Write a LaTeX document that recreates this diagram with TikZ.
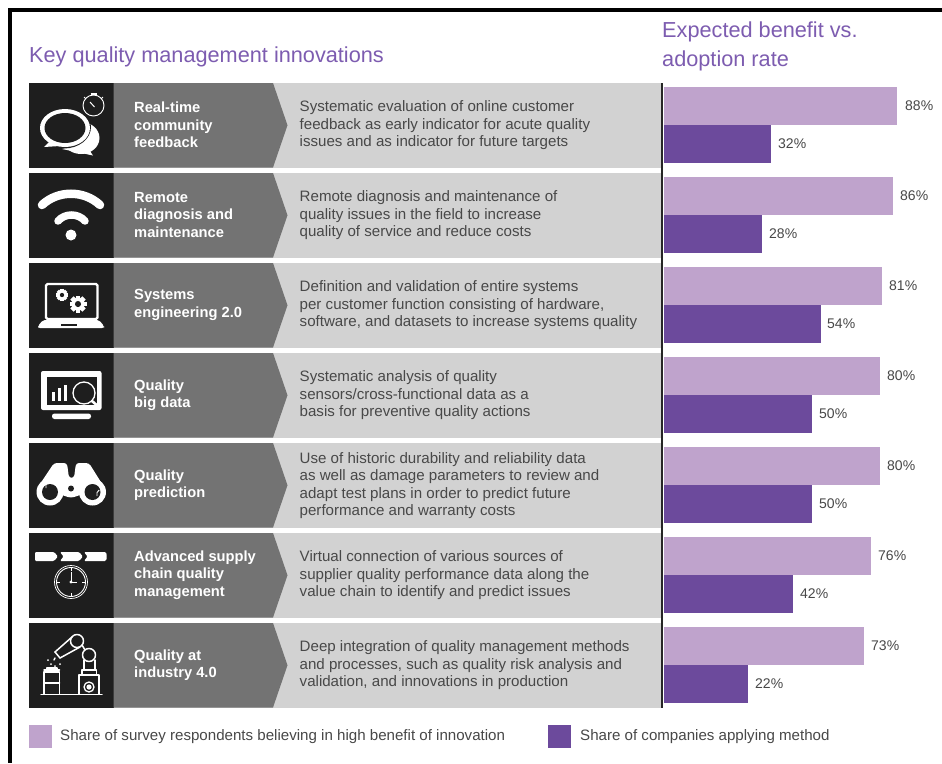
\documentclass[tikz,border=0pt]{standalone}
\usepackage{fontspec}
\setmainfont{Liberation Sans}
\definecolor{titlecol}{HTML}{7D5CB0}
\definecolor{barhi}{HTML}{BFA3CC}
\definecolor{barlo}{HTML}{6C4A9C}
\definecolor{bandd}{HTML}{737373}
\definecolor{bandl}{HTML}{D2D2D2}
\definecolor{iconbg}{HTML}{1E1E1E}
\definecolor{bodytxt}{HTML}{484848}
\tikzset{
  titletxt/.style={anchor=west,inner sep=0pt,text=titlecol,font=\fontsize{21.7}{29}\selectfont,align=left},
  labeltxt/.style={anchor=west,inner sep=0pt,text=white,align=left,font=\fontsize{14.7}{17.4}\selectfont\bfseries},
  desctxt/.style={anchor=west,inner sep=0pt,text=bodytxt,align=left,font=\fontsize{15.1}{17.5}\selectfont},
  pcttxt/.style={anchor=west,inner sep=0pt,text=bodytxt,font=\fontsize{14}{17}\selectfont},
  legtxt/.style={anchor=west,inner sep=0pt,text=bodytxt,font=\fontsize{15.1}{17}\selectfont},
  whl/.style={draw=white,line width=1.5pt,line cap=round,line join=round},
  thinl/.style={draw=white,line width=0.7pt},
}
\newcommand{\qrow}[6]{% id, top y, label, description, hi end, lo end
  \fill[iconbg] (29,#2) rectangle (113.7,#2+84.5);
  \fill[bandl] (113.7,#2) rectangle (661,#2+84.5);
  \fill[bandd] (113.7,#2) -- (273,#2) -- (287.5,#2+42.25) -- (273,#2+84.5) -- (113.7,#2+84.5) -- cycle;
  \node[labeltxt] (lab#1) at (134,#2+42) {#3};
  \node[desctxt] (desc#1) at (299.5,#2+42.5) {#4};
  \fill[barhi] (664,#2+4) rectangle (#5,#2+42);
  \fill[barlo] (664,#2+42) rectangle (#6,#2+80);
}
\newcommand{\qgear}[3]{%
  \foreach \a in {0,45,90,135}{\draw[white,line width=#3*0.55pt] ([shift={(#1,#2)}]\a:#3) -- ([shift={(#1,#2)}]\a+180:#3);}
  \fill[white] (#1,#2) circle[radius=#3*0.78];
  \fill[iconbg] (#1,#2) circle[radius=#3*0.36];
}
\begin{document}
\begin{tikzpicture}[x=1pt,y=-1pt]
\useasboundingbox (0,0) rectangle (942,763);
\fill[white] (0,0) rectangle (942,763);
\fill[black] (8,8) rectangle (942,11.5);
\fill[black] (8,8) rectangle (12,763);

\node[titletxt] (title1) at (29,56.5) {Key quality management innovations};
\node[titletxt] (title2) at (662,46.5) {Expected benefit vs.\\adoption rate};

\qrow{1}{83}{Real-time\\community\\feedback}{Systematic evaluation of online customer\\feedback as early indicator for acute quality\\issues and as indicator for future targets}{897}{770.7}
\qrow{2}{173}{Remote\\diagnosis and\\maintenance}{Remote diagnosis and maintenance of\\quality issues in the field to increase\\quality of service and reduce costs}{893}{761.5}
\qrow{3}{263}{Systems\\engineering 2.0}{Definition and validation of entire systems\\per customer function consisting of hardware,\\software, and datasets to increase systems quality}{882}{820.5}
\qrow{4}{353}{Quality\\big data}{Systematic analysis of quality\\sensors/cross-functional data as a\\basis for preventive quality actions}{880}{812}
\qrow{5}{443}{Quality\\prediction}{Use of historic durability and reliability data\\as well as damage parameters to review and\\adapt test plans in order to predict future\\performance and warranty costs}{880}{812}
\qrow{6}{533}{Advanced supply\\chain quality\\management}{Virtual connection of various sources of\\supplier quality performance data along the\\value chain to identify and predict issues}{871}{793}
\qrow{7}{623}{Quality at\\industry 4.0}{Deep integration of quality management methods\\and processes, such as quality risk analysis and\\validation, and innovations in production}{864}{748}

\node[pcttxt] (p1a) at (905,106) {88\%};
\node[pcttxt] (p1b) at (778,144) {32\%};
\node[pcttxt] (p2a) at (900,196) {86\%};
\node[pcttxt] (p2b) at (769,234) {28\%};
\node[pcttxt] (p3a) at (889,286) {81\%};
\node[pcttxt] (p3b) at (827,324) {54\%};
\node[pcttxt] (p4a) at (887,376) {80\%};
\node[pcttxt] (p4b) at (819,414) {50\%};
\node[pcttxt] (p5a) at (887,466) {80\%};
\node[pcttxt] (p5b) at (819,504) {50\%};
\node[pcttxt] (p6a) at (878,556) {76\%};
\node[pcttxt] (p6b) at (800,594) {42\%};
\node[pcttxt] (p7a) at (871,646) {73\%};
\node[pcttxt] (p7b) at (755,684) {22\%};

\draw[black!85,line width=1.6pt] (662,83) -- (662,707.5);

% legend
\fill[barhi] (29,725) rectangle (52,748);
\node[legtxt] (leg1) at (60,736.5) {Share of survey respondents believing in high benefit of innovation};
\fill[barlo] (548,725) rectangle (571,748);
\node[legtxt] (leg2) at (580,736.5) {Share of companies applying method};

% icon 1: speech bubbles and stopwatch
\fill[white] (81,138) ellipse[x radius=18.5,y radius=16];
\fill[white] (62,149) -- (93,155.5) -- (84,142) -- cycle;
\fill[iconbg] (64,127) ellipse[x radius=27,y radius=21.5];
\fill[iconbg] (60,140) -- (44,150) -- (50,132) -- cycle;
\fill[white] (65,128) ellipse[x radius=25,y radius=19];
\fill[white] (52,139) -- (44,147) -- (60,146) -- cycle;
\fill[iconbg] (65,128) ellipse[x radius=20.5,y radius=15];
\draw[thinl,line width=0.9pt] (93.5,105.5) circle[radius=10.5];
\draw[thinl,line width=1.2pt] (90.5,94) -- (96.5,94);
\draw[thinl,line width=1pt] (84,97) -- (86,99);
\draw[thinl,line width=1pt] (103,97) -- (101,99);
\draw[white,line width=1pt] (90,102) -- (94.5,107);

% icon 2: wifi
\draw[white,line width=8.5pt,line cap=round] (42,205) .. controls (58,190) and (84,190) .. (100,205);
\draw[white,line width=7.5pt,line cap=round] (58,221) .. controls (65,213) and (78,213) .. (85,221);
\fill[white] (71,235) circle[radius=5.5];

% icon 3: laptop with gears
\draw[white,line width=2.2pt,rounded corners=1.5pt] (46,284) rectangle (97.5,319);
\fill[white,rounded corners=2pt] (43,320) -- (99,320) -- (104,326) -- (104,328) -- (38,328) -- (38,326) -- cycle;
\fill[iconbg] (61,324) rectangle (77,326);
\qgear{62}{295}{6}
\qgear{78}{304}{8.5}

% icon 4: monitor with magnifier
\fill[white,rounded corners=2pt] (41,371) rectangle (101.5,410);
\fill[iconbg] (47,377) rectangle (97,404.5);
\fill[white,rounded corners=2.5pt] (52,413.5) rectangle (91,419);
\fill[white] (51.5,392) rectangle (55,401);
\fill[white] (57.5,388) rectangle (61,401);
\fill[white] (63.5,385) rectangle (67,401);
\draw[white,line width=1.3pt,fill=iconbg] (84,393) circle[radius=11];
\draw[white,line width=2.6pt,line cap=round] (92,401) -- (100,408);

% icon 5: binoculars
\fill[white] (50,492) circle[radius=13.5];
\fill[white] (92.5,492) circle[radius=13.5];
\fill[white,rounded corners=3pt] (54,463) -- (67,463) -- (69,478) -- (74,478) -- (76,463) -- (89,463) -- (104,487) -- (71,498) -- (38,487) -- cycle;
\fill[iconbg] (50,492) circle[radius=8];
\fill[iconbg] (92.5,492) circle[radius=8];
\fill[iconbg] (71,488.5) circle[radius=3];
\draw[white,line width=0.9pt] (46,488) arc[start angle=160,end angle=240,radius=5];
\draw[white,line width=0.9pt] (97,496) arc[start angle=-20,end angle=60,radius=-5];

% icon 6: chain and clock
\fill[white,rounded corners=1.2pt] (35,552) -- (54,552) -- (58,556.5) -- (54,561) -- (35,561) -- cycle;
\fill[white,rounded corners=1.2pt] (60,552) -- (79,552) -- (83,556.5) -- (79,561) -- (60,561) -- (63.5,556.5) -- cycle;
\fill[white,rounded corners=1.2pt] (84,552) -- (106,552) -- (107,556.5) -- (106,561) -- (84,561) -- (87.5,556.5) -- cycle;
\draw[white,line width=0.7pt] (71,582) circle[radius=16.5];
\draw[white,line width=0.9pt] (71,582) circle[radius=14.5];
\foreach \a in {0,90,180,270}{\draw[white,line width=0.8pt] ([shift={(71,582)}]\a:14) -- ([shift={(71,582)}]\a:11);}
\draw[white,line width=1pt] (71,572) -- (71,582) -- (77,582);
\fill[white] (71,582) circle[radius=1.6];

% icon 7: robot arm
\draw[whl] (41,694.5) -- (102,694.5);
\draw[whl] (44,694) -- (44,672) -- (59.5,672) -- (59.5,694);
\draw[whl] (44,683) -- (59.5,683);
\draw[whl] (47,672) -- (47,668) -- (57,668) -- (57,672);
\draw[whl] (44,670) -- (59.5,670);
\draw[whl] (79,694) -- (79,675) -- (99,675) -- (99,694);
\draw[whl] (82,675) -- (82,670) -- (96.5,670) -- (96.5,675);
\draw[white,line width=1.3pt] (89,687) circle[radius=5];
\fill[white] (89,687) circle[radius=2.6];
\draw[whl] (84,670) -- (84,660);
\draw[whl] (95,670) -- (95,660);
\draw[whl] (89,655) circle[radius=6.5];
\draw[whl] (77,641) circle[radius=6.5];
\draw[whl] (82,645) -- (85,650);
\draw[whl] (72,637) -- (55,652);
\draw[whl] (80,647) -- (60,658);
\draw[whl] (55,652) -- (60,658);
\draw[whl] (55,658) -- (54,660);
\fill[white] (48,660) circle[radius=1];
\fill[white] (51,664) circle[radius=1];
\fill[white] (55,666) circle[radius=1];
\fill[white] (60,664) circle[radius=1];
\end{tikzpicture}
\end{document}
